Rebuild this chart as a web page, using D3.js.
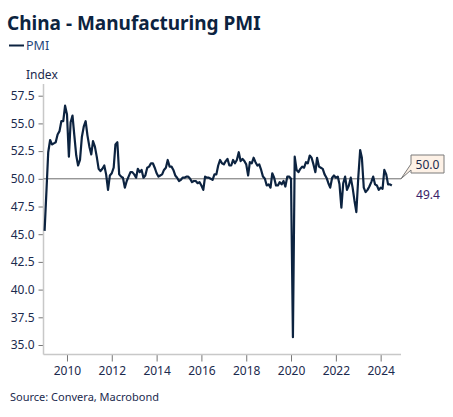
<!DOCTYPE html>
<html>
<head>
<meta charset="utf-8">
<script src="https://cdn.jsdelivr.net/npm/d3@7"></script>
<style>
  body { margin: 0; background: #fff; }
  svg { font-family: "Noto Sans", "Open Sans", sans-serif; }
</style>
</head>
<body>
<div id="chart"></div>
<script>
// China NBS manufacturing PMI, monthly from Jan 2009
var startMonth = "2009-01";
var pmi = [
  45.3, 49.0, 52.4, 53.5, 53.1, 53.2, 53.3, 54.0, 54.3, 55.2, 55.2, 56.6,
  55.8, 52.0, 55.1, 55.7, 53.9, 52.1, 51.2, 51.7, 53.8, 54.7, 55.2, 53.9,
  52.9, 52.2, 53.4, 52.9, 52.0, 50.9, 50.7, 50.9, 51.2, 50.4, 49.0, 50.3,
  50.5, 51.0, 53.1, 53.3, 50.4, 50.2, 50.1, 49.2, 49.8, 50.2, 50.6, 50.6,
  50.4, 50.1, 50.9, 50.6, 50.8, 50.1, 50.3, 51.0, 51.1, 51.4, 51.4, 51.0,
  50.5, 50.2, 50.3, 50.4, 50.8, 51.0, 51.7, 51.1, 51.1, 50.8, 50.3, 50.1,
  49.8, 49.9, 50.1, 50.1, 50.2, 50.2, 50.0, 49.7, 49.8, 49.8, 49.6, 49.7,
  49.4, 49.0, 50.2, 50.1, 50.1, 50.0, 49.9, 50.4, 50.4, 51.2, 51.7, 51.4,
  51.3, 51.6, 51.8, 51.2, 51.2, 51.7, 51.4, 51.7, 52.4, 51.6, 51.8, 51.6,
  51.3, 50.3, 51.5, 51.4, 51.9, 51.5, 51.2, 51.3, 50.8, 50.2, 50.0, 49.4,
  49.5, 49.2, 50.5, 50.1, 49.4, 49.4, 49.7, 49.5, 49.8, 49.3, 50.2, 50.2,
  50.0, 35.7, 52.0, 50.8, 50.6, 50.9, 51.1, 51.0, 51.5, 51.4, 52.1, 51.9,
  51.3, 50.6, 51.9, 51.1, 51.0, 50.9, 50.4, 50.1, 49.6, 49.2, 50.1, 50.3,
  50.1, 50.2, 49.5, 47.4, 49.6, 50.2, 49.0, 49.4, 50.1, 49.2, 48.0, 47.0,
  50.1, 52.6, 51.9, 49.2, 48.8, 49.0, 49.3, 49.7, 50.2, 49.5, 49.4, 49.0,
  49.2, 49.1, 50.8, 50.4, 49.5, 49.5, 49.4
];
var yTicks = [35, 37.5, 40, 42.5, 45, 47.5, 50, 52.5, 55, 57.5];
var xTickYears = [2010, 2012, 2014, 2016, 2018, 2020, 2022, 2024];
var refLevel = 50.0;

var W = 453, H = 417;
var navy = "#0c2340", textCol = "#1b2a4e";
var plotL = 43.5, plotR = 401, plotT = 84, plotB = 354.5;

var parseMonth = d3.timeParse("%Y-%m");
var t0 = parseMonth(startMonth);
var data = pmi.map(function(v, i) { return { date: d3.timeMonth.offset(t0, i), value: v }; });

var svg = d3.select("#chart").append("svg").attr("width", W).attr("height", H);

var x = d3.scaleTime()
  .domain([new Date(2009, 0, 1), new Date(2025, 0, 1)])
  .range([44.6, 403.1]);
var y = d3.scaleLinear()
  .domain([35, 57.5])
  .range([345, 95.7]);

// title + legend
svg.append("text").attr("x", 7).attr("y", 30)
  .style("font-size", "19px").style("font-weight", "bold").attr("fill", navy)
  .text("China - Manufacturing PMI");
svg.append("line").attr("x1", 9).attr("x2", 24).attr("y1", 45.5).attr("y2", 45.5)
  .attr("stroke", navy).attr("stroke-width", 2);
svg.append("text").attr("x", 26).attr("y", 50)
  .style("font-size", "12.5px").attr("fill", "#24457a").text("PMI");
svg.append("text").attr("x", 26).attr("y", 79)
  .style("font-size", "12px").attr("fill", textCol).text("Index");

// y axis
var yAxis = d3.axisLeft(y).tickValues(yTicks).tickSize(5).tickPadding(4)
  .tickFormat(d3.format(".1f"));
var gy = svg.append("g").attr("transform", "translate(" + plotL + ",0)").call(yAxis);
gy.select(".domain").remove();
gy.append("line").attr("x1", 0).attr("x2", 0).attr("y1", plotT).attr("y2", plotB)
  .attr("stroke", "#c8c8c8").attr("stroke-width", 1.5);

// x axis
var xAxis = d3.axisBottom(x)
  .tickValues(xTickYears.map(function(yr) { return new Date(yr, 0, 1); }))
  .tickSize(7).tickPadding(5).tickFormat(d3.timeFormat("%Y"));
var gx = svg.append("g").attr("transform", "translate(0," + plotB + ")").call(xAxis);
gx.select(".domain").remove();
gx.append("line").attr("x1", plotL).attr("x2", plotR).attr("y1", 0).attr("y2", 0)
  .attr("stroke", "#c8c8c8").attr("stroke-width", 1.5);

[gx, gy].forEach(function(g) {
  g.selectAll(".tick line").attr("stroke", "#777");
  g.selectAll(".tick text").style("font-size", "12px").attr("fill", textCol)
    .style("font-family", "\"Noto Sans\", sans-serif");
});

// 50 reference line
svg.append("line").attr("x1", plotL).attr("x2", plotR)
  .attr("y1", y(refLevel)).attr("y2", y(refLevel))
  .attr("stroke", "#6b6b6b").attr("stroke-width", 1);

// series
var line = d3.line().x(function(d) { return x(d.date); }).y(function(d) { return y(d.value); });
svg.append("path").datum(data).attr("d", line)
  .attr("fill", "none").attr("stroke", navy).attr("stroke-width", 2.2)
  .attr("stroke-linejoin", "round");

// callout for 50.0
var by = y(refLevel);
svg.append("path")
  .attr("d", "M411,155 H444 V173 H411 V170 L" + plotR + "," + by + " L411,164 Z")
  .attr("fill", "#fdf1e6").attr("stroke", "#7a7a7a").attr("stroke-width", 1);
svg.append("text").attr("x", 427.5).attr("y", 168.5).attr("text-anchor", "middle")
  .style("font-size", "12px").attr("fill", textCol).text(d3.format(".1f")(refLevel));

// last value
var last = data[data.length - 1];
svg.append("text").attr("x", 428).attr("y", 199).attr("text-anchor", "middle")
  .style("font-size", "12px").attr("fill", "#3a2068").text(d3.format(".1f")(last.value));

// source
svg.append("text").attr("x", 10).attr("y", 401)
  .style("font-size", "11px").attr("fill", textCol).text("Source: Convera, Macrobond");
</script>
</body>
</html>
